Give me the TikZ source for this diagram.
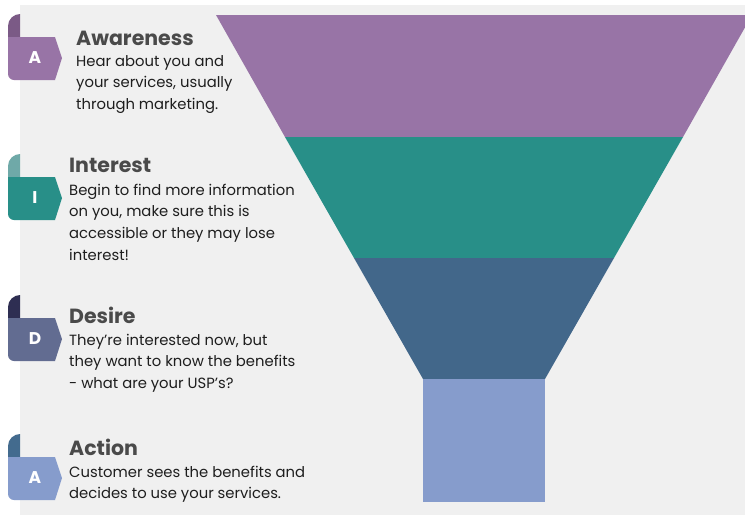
\documentclass[tikz,border=0pt]{standalone}
\usepackage{fontspec}
\setmainfont{Poppins}
\definecolor{bggray}{HTML}{F0F0F0}
\definecolor{fpurple}{HTML}{9874A6}
\definecolor{fpurplecurl}{HTML}{7B5A86}
\definecolor{fteal}{HTML}{288F88}
\definecolor{ftealcurl}{HTML}{6FA9A8}
\definecolor{fblue}{HTML}{42678A}
\definecolor{fdesire}{HTML}{626C91}
\definecolor{fdesirecurl}{HTML}{2E2E52}
\definecolor{flight}{HTML}{869CCC}
\definecolor{factioncurl}{HTML}{436B8E}
\definecolor{titlegray}{HTML}{4A4A4A}
\definecolor{desctext}{HTML}{1E1E1E}
\tikzset{
  tabletter/.style={text=white, font=\fontsize{17}{20}\selectfont\bfseries, inner sep=0pt},
  stagetitle/.style={text=titlegray, font=\fontsize{20.5}{24}\selectfont\bfseries, inner sep=0pt, anchor=base west},
  stagedesc/.style={text=desctext, inner sep=0pt, anchor=base west},
}
\newcommand\funneltab[5]{%
  \fill[#3] (8,#2+30) -- (8,#2+12) .. controls (8,#2+5) and (14,#2) .. (20,#2) -- (20,#2+30) -- cycle;
  \fill[#4] (8,#2+23) -- (55,#2+23) -- (62,#2+44) -- (55,#2+66) -- (14,#2+66)
     .. controls (10.7,#2+66) and (8,#2+63.3) .. (8,#2+60) -- cycle;
  \node[tabletter] (#1) at (35,#2+44) {#5};
}
\newcommand\descbox[1]{\parbox[t]{260pt}{\fontsize{14.8}{21.7}\selectfont\raggedright #1}}
\begin{document}
\begin{tikzpicture}[x=1pt,y=-1pt]
\clip (0,0) rectangle (745,515);
\fill[white] (0,0) rectangle (745,515);
\fill[bggray] (20,5) rectangle (745,515);
% funnel
\fill[fpurple] (216,15) -- (752,15) -- (683,137) -- (285,137) -- cycle;
\fill[fteal] (285,137) -- (683,137) -- (614,258) -- (354,258) -- cycle;
\fill[fblue] (354,258) -- (614,258) -- (545,379) -- (423,379) -- cycle;
\fill[flight] (423,379) rectangle (545,502);
% tabs
\funneltab{tabA}{14}{fpurplecurl}{fpurple}{A}
\funneltab{tabI}{154}{ftealcurl}{fteal}{I}
\funneltab{tabD}{295}{fdesirecurl}{fdesire}{D}
\funneltab{tabAc}{434}{factioncurl}{flight}{A}
% texts
\node[stagetitle] (t1) at (76,45) {Awareness};
\node[stagedesc] (d1) at (76,66) {\descbox{Hear about you and\\your services, usually\\through marketing.}};
\node[stagetitle] (t2) at (69,172) {Interest};
\node[stagedesc] (d2) at (69,195) {\descbox{Begin to find more information\\on you, make sure this is\\accessible or they may lose\\interest!}};
\node[stagetitle] (t3) at (69,323) {Desire};
\node[stagedesc] (d3) at (69,345) {\descbox{They're interested now, but\\they want to know the benefits\\- what are your USP's?}};
\node[stagetitle] (t4) at (69,455) {Action};
\node[stagedesc] (d4) at (69,477) {\descbox{Customer sees the benefits and\\decides to use your services.}};
\end{tikzpicture}
\end{document}
